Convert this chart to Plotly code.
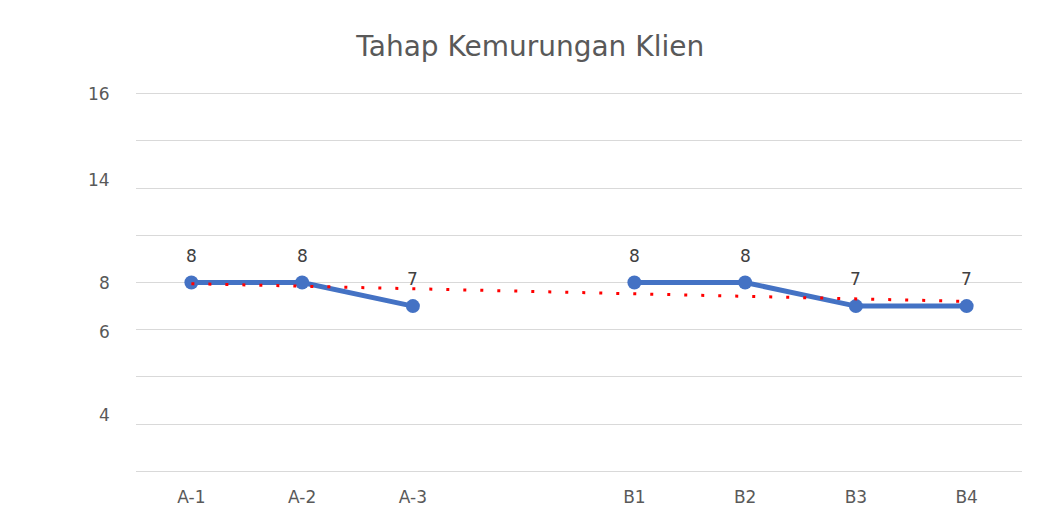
import plotly.graph_objects as go

categories = ["A-1", "A-2", "A-3", " ", "B1", "B2", "B3", "B4"]
phase_a_cats = ["A-1", "A-2", "A-3"]
phase_a_vals = [8, 8, 7]
phase_b_cats = ["B1", "B2", "B3", "B4"]
phase_b_vals = [8, 8, 7, 7]
trend_cats = ["A-1", "B4"]
trend_vals = [7.95, 7.2]
ytick_labels = ["16", "14", "8", "6", "4"]
ytick_at = [16, 12.35, 8, 5.9, 2.4]

blue = "#4472C4"
txt = "#595959"
fnt = "DejaVu Sans"

fig = go.Figure()
for cats, vals in [(phase_a_cats, phase_a_vals), (phase_b_cats, phase_b_vals)]:
    fig.add_trace(go.Scatter(
        x=cats, y=vals, mode="lines+markers",
        line=dict(color=blue, width=5),
        marker=dict(color=blue, size=14),
        showlegend=False,
    ))
    for c, v in zip(cats, vals):
        fig.add_annotation(x=c, y=v, text=str(v), showarrow=False, yshift=27,
                           font=dict(size=17, color="#404040", family=fnt))
fig.add_trace(go.Scatter(
    x=trend_cats, y=trend_vals, mode="lines",
    line=dict(color="#FF0000", width=3, dash="3px,14px"),
    showlegend=False,
))

for lab, pos in zip(ytick_labels, ytick_at):
    fig.add_annotation(x=0, xref="paper", y=pos, yref="y", text=lab,
                       showarrow=False, xanchor="right", xshift=-24,
                       font=dict(size=17, color=txt, family=fnt))

fig.update_layout(
    width=1055, height=526,
    margin=dict(l=128, r=41, t=81, b=58),
    paper_bgcolor="white", plot_bgcolor="white",
    title=dict(text="Tahap Kemurungan Klien", x=0.495, xanchor="center",
               y=0.927, yanchor="middle",
               font=dict(size=28, color=txt, family=fnt)),
    xaxis=dict(type="category", categoryorder="array", categoryarray=categories,
               range=[-0.5, 7.5], showgrid=False, zeroline=False, showline=False,
               ticks="", tickfont=dict(size=17, color=txt, family=fnt),
               ticklabelstandoff=9),
    yaxis=dict(range=[-0.2, 16.2], tickvals=list(range(0, 17, 2)), showticklabels=False,
               gridcolor="#D9D9D9", gridwidth=1.3, zeroline=False, showline=False),
)
fig.write_html("out.html")
